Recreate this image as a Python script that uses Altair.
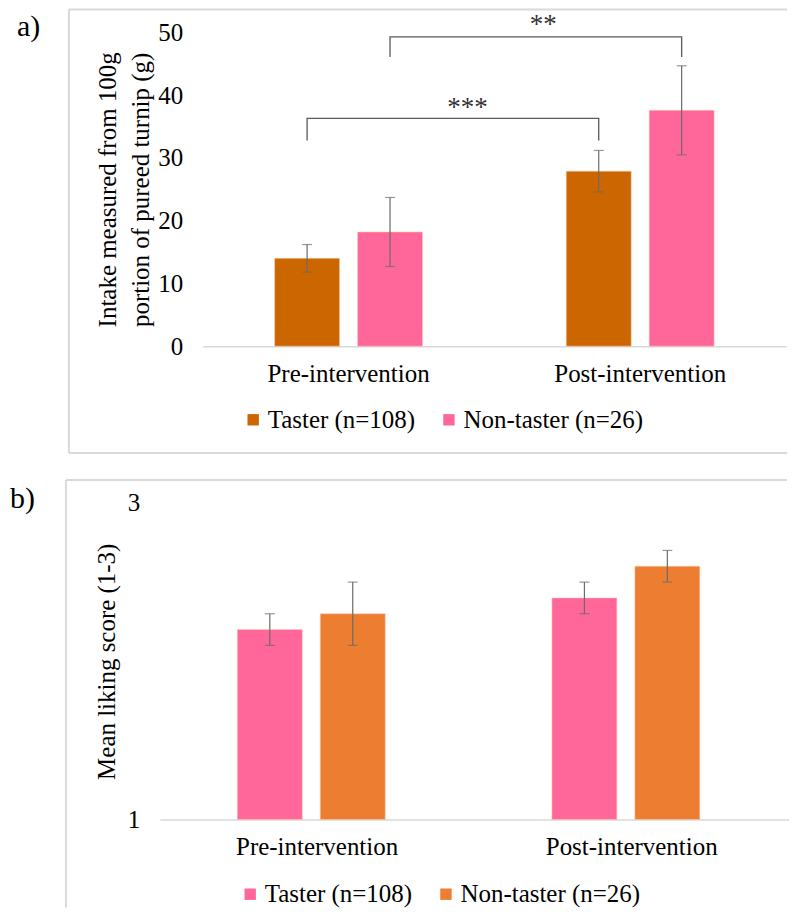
import altair as alt
import pandas as pd

FONT = "Liberation Serif"

periods = ["Pre-intervention", "Post-intervention"]
groups = ["Taster (n=108)", "Non-taster (n=26)"]

# order of rows: Pre-Taster, Pre-Non-taster, Post-Taster, Post-Non-taster
row_period = ["Pre-intervention", "Pre-intervention", "Post-intervention", "Post-intervention"]
row_group = ["Taster (n=108)", "Non-taster (n=26)", "Taster (n=108)", "Non-taster (n=26)"]

intake_mean = [14.0, 18.2, 27.9, 37.6]
intake_err = [2.2, 5.5, 3.3, 7.1]
liking_mean = [2.2, 2.3, 2.4, 2.6]
liking_err = [0.1, 0.2, 0.1, 0.1]

# significance brackets (panel a)
br_id = ["b1", "b1", "b1", "b1", "b2", "b2", "b2", "b2"]
br_ord = [0, 1, 2, 3, 0, 1, 2, 3]
br_period = ["Pre-intervention", "Pre-intervention", "Post-intervention", "Post-intervention",
             "Pre-intervention", "Pre-intervention", "Post-intervention", "Post-intervention"]
br_group = ["Taster (n=108)"] * 4 + ["Non-taster (n=26)"] * 4
br_y = [32.8, 36.3, 36.3, 32.8, 46.1, 49.3, 49.3, 46.1]
star_text = ["***", "**"]
star_y = [38.0, 51.2]
star_dx = [-173, -97]

colors_a = ["#CC6600", "#FF6699"]
colors_b = ["#FF6699", "#ED7D31"]

df_a = pd.DataFrame({"period": row_period, "group": row_group, "mean": intake_mean, "err": intake_err})
df_a["lo"] = df_a["mean"] - df_a["err"]
df_a["hi"] = df_a["mean"] + df_a["err"]
df_b = pd.DataFrame({"period": row_period, "group": row_group, "mean": liking_mean, "err": liking_err})
df_b["lo"] = df_b["mean"] - df_b["err"]
df_b["hi"] = df_b["mean"] + df_b["err"]
df_br = pd.DataFrame({"id": br_id, "ord": br_ord, "period": br_period, "group": br_group, "y": br_y})
df_star = pd.DataFrame({"text": star_text, "y": star_y, "dx": star_dx, "period": ["Post-intervention"] * 2})
one = pd.DataFrame({"k": [0]})

GRAY_ERR = "#6b6b6b"
FRAME = "#d9d9d9"
FS = 25


def seg(x0, y0, x1, y1):
    return alt.Chart(one).mark_rule(color=FRAME, strokeWidth=2).encode(
        x=alt.value(x0), y=alt.value(y0), x2=alt.value(x1), y2=alt.value(y1))


def make_panel(df, colors, x_range, width, height, ydomain, yvalues, ytitle, y_offset,
               title_pad, legend_x, legend_y, tag, tag_x, tag_y, frame, brackets=False):
    xenc = alt.X("period:N", sort=periods,
                 scale=alt.Scale(range=x_range, paddingInner=0.493, paddingOuter=0.2465),
                 axis=alt.Axis(title=None, labelAngle=0, ticks=False, tickSize=0, grid=False,
                               domainColor=FRAME, domainWidth=1.5, labelPadding=15,
                               labelFontSize=FS, labelFont=FONT, labelColor="black"))
    xoff = alt.XOffset("group:N", sort=groups, scale=alt.Scale(paddingInner=0.217, paddingOuter=0))
    yscale = alt.Scale(domain=ydomain, nice=False, zero=False)
    base = alt.Chart(df)
    bars = base.mark_bar(stroke="#F8CBAD", strokeWidth=0.8, strokeOpacity=0.7).encode(
        x=xenc, xOffset=xoff,
        y=alt.Y("mean:Q", scale=yscale,
                axis=alt.Axis(values=yvalues, format="d", title=ytitle, grid=False, domain=False,
                              ticks=False, tickSize=0, labelPadding=20, labelFontSize=FS,
                              labelFont=FONT, labelColor="black", titleFontSize=FS, titleFont=FONT,
                              titleFontWeight="normal", titleColor="black", titleLineHeight=33,
                              titlePadding=title_pad, offset=y_offset)),
        y2=alt.datum(ydomain[0]),
        color=alt.Color("group:N", scale=alt.Scale(domain=groups, range=colors),
                        legend=alt.Legend(title=None, orient="none", legendX=legend_x, legendY=legend_y,
                                          direction="horizontal", symbolType="square", symbolSize=130,
                                          symbolStrokeWidth=0, labelFontSize=FS, labelFont=FONT,
                                          labelColor="black", labelOffset=2, columnPadding=21,
                                          labelLimit=400)),
    )
    err = base.mark_rule(color=GRAY_ERR, strokeWidth=1.2).encode(
        x=xenc, xOffset=xoff, y=alt.Y("lo:Q", scale=yscale), y2="hi:Q")
    cap_hi = base.mark_tick(color=GRAY_ERR, thickness=1.2, size=10, orient="horizontal").encode(
        x=xenc, xOffset=xoff, y=alt.Y("hi:Q", scale=yscale))
    cap_lo = base.mark_tick(color=GRAY_ERR, thickness=1.2, size=10, orient="horizontal").encode(
        x=xenc, xOffset=xoff, y=alt.Y("lo:Q", scale=yscale))
    fx0, fx1, fy0, fy1 = frame
    frame_layers = [seg(fx0, fy0, fx1, fy0), seg(fx0, fy0, fx0, fy1)]
    if brackets:
        frame_layers.append(seg(fx0, fy1, fx1, fy1))
    label = alt.Chart(one).mark_text(text=tag, font=FONT, fontSize=30, align="left", baseline="top",
                                     color="black").encode(x=alt.value(tag_x), y=alt.value(tag_y))
    layers = frame_layers + [bars, err, cap_hi, cap_lo, label]
    if brackets:
        br = alt.Chart(df_br).mark_line(color="#595959", strokeWidth=1.3, interpolate="linear").encode(
            x=xenc, xOffset=xoff, y=alt.Y("y:Q", scale=yscale), detail="id:N", order="ord:Q")
        stars = []
        for t, yy, dx in zip(star_text, star_y, star_dx):
            stars.append(alt.Chart(df_star[df_star["text"] == t]).mark_text(
                font=FONT, fontSize=27, color="#333333", dx=dx, baseline="middle").encode(
                x=xenc, y=alt.Y("y:Q", scale=yscale), text="text:N"))
        layers = layers + [br] + stars
    return alt.layer(*layers).properties(width=width, height=height,
                                         view=alt.ViewConfig(stroke="transparent", strokeWidth=0))


panel_a = make_panel(df_a, colors_a, [43, 627], 627, 314, [0, 50], [0, 10, 20, 30, 40, 50],
                     ["Intake measured from 100g", "portion of pureed turnip (g)"], -43, 4,
                     81, 375, "a)", -143, -21, (-91, 628, -23, 421), brackets=True)
panel_b = make_panel(df_b, colors_b, [0, 630], 630, 317, [1, 3], [1, 2, 3],
                     "Mean liking score (1-3)", 0, 8,
                     78, 379, "b)", -150, -19, (-94, 628, -23, 405), brackets=False)

chart = (alt.vconcat(panel_a, panel_b, spacing=25)
         .resolve_scale(color="independent")
         .configure_view(stroke="transparent", strokeWidth=0)
         .configure_axis(grid=False)
         .configure(padding={"left": 2, "top": 0, "right": 0, "bottom": 0}))

chart.save("out.html", embed_options={"renderer": "svg", "actions": False})
